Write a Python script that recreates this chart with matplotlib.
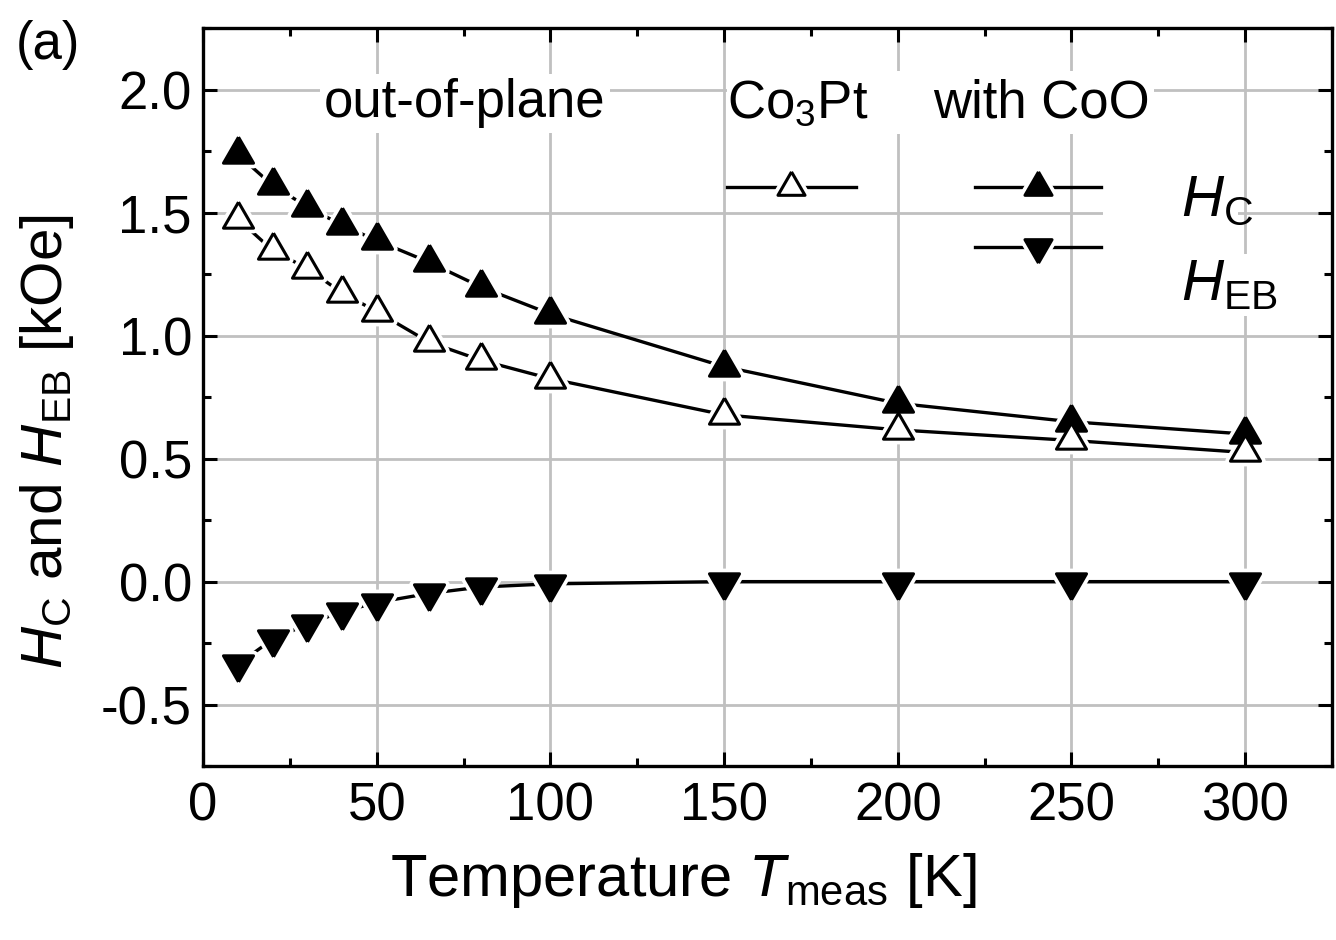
import matplotlib
matplotlib.use("Agg")
import matplotlib.pyplot as plt
from matplotlib.ticker import MultipleLocator
from matplotlib.patches import Rectangle

plt.rcParams['font.family'] = ['Liberation Sans', 'DejaVu Sans']
plt.rcParams['mathtext.fontset'] = 'custom'
plt.rcParams['mathtext.rm'] = 'Liberation Sans'
plt.rcParams['mathtext.it'] = 'Liberation Sans:italic'
plt.rcParams['mathtext.bf'] = 'Liberation Sans:bold'

# ---- data ----
temperature = [10, 20, 30, 40, 50, 65, 80, 100, 150, 200, 250, 300]
hc_co3pt = [1.475, 1.347, 1.273, 1.174, 1.098, 0.974, 0.900, 0.825, 0.678, 0.617, 0.574, 0.525]
hc_with_coo = [1.737, 1.611, 1.524, 1.449, 1.387, 1.299, 1.198, 1.088, 0.874, 0.725, 0.650, 0.600]
heb_with_coo = [-0.336, -0.235, -0.173, -0.122, -0.085, -0.048, -0.022, -0.009, 0.0, 0.0, 0.0, 0.0]

x_ticks = [0, 50, 100, 150, 200, 250, 300]
y_ticks = [-0.5, 0.0, 0.5, 1.0, 1.5, 2.0]
y_ticklabels = ['-0.5', '0.0', '0.5', '1.0', '1.5', '2.0']

# ---- style ----
UP = [(0, 1), (-0.866, -0.5), (0.866, -0.5), (0, 1)]
DOWN = [(0, -1), (-0.866, 0.5), (0.866, 0.5), (0, -1)]
MS = 25
MEW = 2.2
LW = 2.4
HALO_MEW = 7.5
FS = 38

fig = plt.figure(figsize=(13.36, 9.40), dpi=100)
ax = fig.add_axes([0.152, 0.185, 0.845, 0.785])
ax.set_xlim(0, 325)
ax.set_ylim(-0.75, 2.25)

ax.grid(True, which='major', color='#c0c0c0', linewidth=2.0, zorder=0)
ax.set_axisbelow(True)


def series(x, y, marker):
    ax.plot(x, y, '-', color='black', lw=LW, zorder=2, clip_on=False)
    ax.plot(x, y, linestyle='none', marker=marker, ms=MS, mfc='white', mec='white',
            mew=HALO_MEW, zorder=3, clip_on=False)


series(temperature, hc_with_coo, UP)
series(temperature, heb_with_coo, DOWN)
series(temperature, hc_co3pt, UP)
ax.plot(temperature, hc_with_coo, linestyle='none', marker=UP, ms=MS, mfc='black',
        mec='black', mew=MEW, zorder=4, clip_on=False)
ax.plot(temperature, heb_with_coo, linestyle='none', marker=DOWN, ms=MS, mfc='black',
        mec='black', mew=MEW, zorder=4, clip_on=False)
ax.plot(temperature, hc_co3pt, linestyle='none', marker=UP, ms=MS, mfc='white',
        mec='black', mew=MEW, zorder=5, clip_on=False)

# ---- axes styling ----
for s in ax.spines.values():
    s.set_linewidth(2.4)
ax.set_xticks(x_ticks)
ax.set_yticks(y_ticks)
ax.set_yticklabels(y_ticklabels)
ax.xaxis.set_minor_locator(MultipleLocator(25))
ax.yaxis.set_minor_locator(MultipleLocator(0.25))
ax.tick_params(which='both', direction='in', top=True, right=True, width=2.2)
ax.tick_params(which='major', length=10, labelsize=FS)
ax.tick_params(axis='x', which='major', pad=11)
ax.tick_params(axis='y', which='major', pad=8)
ax.tick_params(which='minor', length=6)

ax.set_xlabel('Temperature $\\mathit{T}_\\mathrm{meas}$ [K]', fontsize=43)
ax.xaxis.set_label_coords(0.425, -0.115)
ax.set_ylabel('$\\mathit{H}_\\mathrm{C}$ and $\\mathit{H}_\\mathrm{EB}$ [kOe]', fontsize=42)
ax.yaxis.set_label_coords(-0.113, 0.44)

fig.text(0.036, 0.952, '(a)', fontsize=38, ha='center', va='center')

# ---- in-plot legend ----
wb = dict(facecolor='white', edgecolor='none', pad=3)
ax.add_patch(Rectangle((0.464, 0.856), 0.378, 0.086, transform=ax.transAxes,
                       facecolor='white', edgecolor='none', zorder=1))
ax.add_patch(Rectangle((0.797, 0.73), 0.12, 0.078, transform=ax.transAxes,
                       facecolor='white', edgecolor='none', zorder=1))
ax.text(0.232, 0.879, 'out-of-plane', transform=ax.transAxes, fontsize=FS,
        ha='center', va='baseline', bbox=wb, zorder=6)
ax.text(0.464, 0.879, 'Co$_3$Pt', transform=ax.transAxes, fontsize=FS,
        ha='left', va='baseline', zorder=6)
ax.text(0.647, 0.879, 'with CoO', transform=ax.transAxes, fontsize=FS,
        ha='left', va='baseline', zorder=6)


def handle(x0, x1, y, marker, face):
    ax.plot([x0, x1], [y, y], color='black', lw=LW, transform=ax.transAxes, zorder=7)
    xm = (x0 + x1) / 2
    ax.plot([xm], [y], linestyle='none', marker=marker, ms=MS * 0.9, mfc='white', mec='white',
            mew=HALO_MEW, transform=ax.transAxes, zorder=8)
    ax.plot([xm], [y], linestyle='none', marker=marker, ms=MS * 0.9, mfc=face, mec='black',
            mew=MEW, transform=ax.transAxes, zorder=9)


handle(0.464, 0.578, 0.785, UP, 'white')
handle(0.684, 0.795, 0.785, UP, 'black')
handle(0.684, 0.795, 0.703, DOWN, 'black')
ax.text(0.866, 0.746, '$\\mathit{H}_\\mathrm{C}$', transform=ax.transAxes, fontsize=42,
        ha='left', va='baseline', zorder=6)
ax.text(0.866, 0.632, '$\\mathit{H}_\\mathrm{EB}$', transform=ax.transAxes, fontsize=42,
        ha='left', va='baseline', bbox=wb, zorder=6)

fig.savefig('out.png', dpi=100)
